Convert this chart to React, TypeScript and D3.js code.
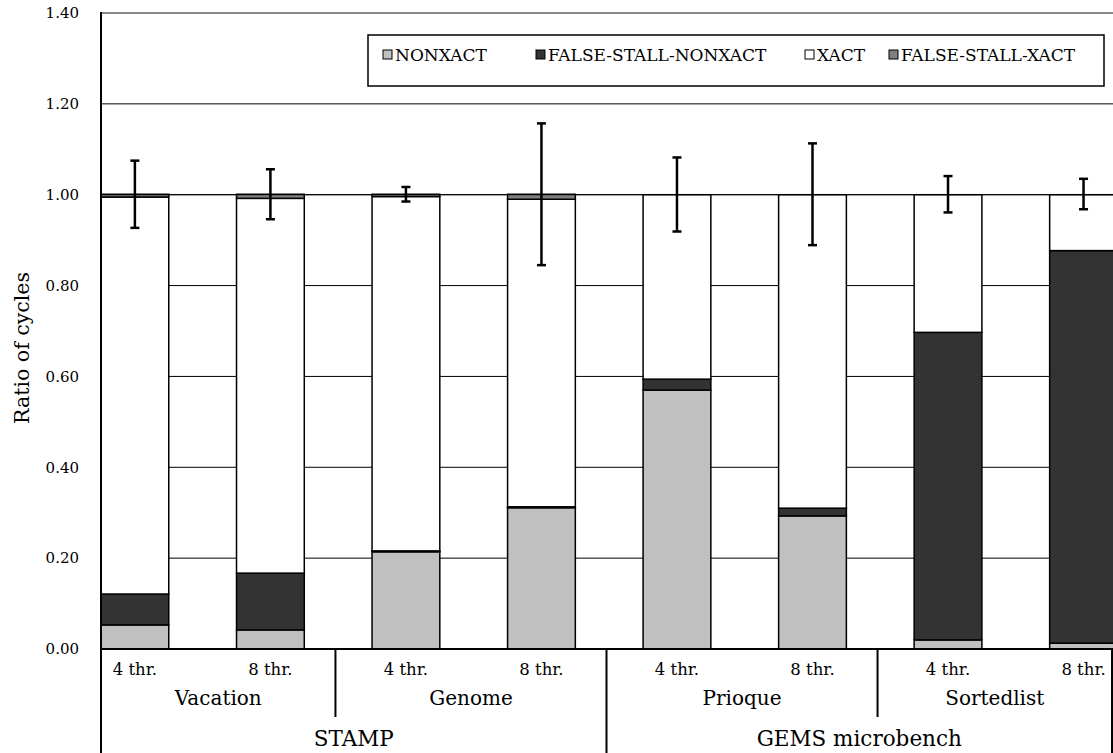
import React, { useEffect, useRef } from 'react';
import * as d3 from 'd3';

const seriesKeys = ['NONXACT', 'FALSE-STALL-NONXACT', 'XACT', 'FALSE-STALL-XACT'];
const seriesColors = ['#c0c0c0', '#333333', '#ffffff', '#808080'];

const threadLabels = ['4 thr.', '8 thr.', '4 thr.', '8 thr.', '4 thr.', '8 thr.', '4 thr.', '8 thr.'];
const nonxact = [0.053, 0.042, 0.214, 0.311, 0.57, 0.293, 0.02, 0.013];
const falseStallNonxact = [0.068, 0.125, 0.002, 0.002, 0.024, 0.017, 0.677, 0.864];
const xact = [0.874, 0.825, 0.78, 0.677, 0.406, 0.69, 0.303, 0.123];
const falseStallXact = [0.006, 0.009, 0.005, 0.011, 0, 0, 0, 0];
const errLow = [0.927, 0.946, 0.985, 0.845, 0.919, 0.889, 0.961, 0.968];
const errHigh = [1.075, 1.056, 1.017, 1.157, 1.082, 1.113, 1.041, 1.035];

const benchmarks = ['Vacation', 'Genome', 'Prioque', 'Sortedlist'];
const benchBreaks = [0, 1.73, 3.73, 5.73, 7.46];
const suites = ['STAMP', 'GEMS microbench'];
const suiteBreaks = [0, 3.73, 7.46];

const yTicks = [0, 0.2, 0.4, 0.6, 0.8, 1.0, 1.2, 1.4];

const App = () => {
  const ref = useRef<SVGSVGElement>(null);

  useEffect(() => {
    document.body.style.margin = '0';
    const width = 1113;
    const height = 753;
    const font = 'DejaVu Serif';

    const svg = d3.select(ref.current);
    svg.selectAll('*').remove();
    svg.attr('width', width).attr('height', height);
    svg.append('rect').attr('width', width).attr('height', height).attr('fill', '#fff');

    const x = d3.scaleLinear().domain([0, 7.46]).range([101, 1112]);
    const y = d3.scaleLinear().domain([0, 1.4]).range([649, 13]);

    // gridlines
    svg
      .append('g')
      .selectAll('line')
      .data(yTicks.filter((t) => t > 0))
      .join('line')
      .attr('x1', x(0))
      .attr('x2', width)
      .attr('y1', (d) => y(d))
      .attr('y2', (d) => y(d))
      .attr('stroke', (d) => (d === 1.4 ? '#888' : '#000'))
      .attr('stroke-width', (d) => (d === 1.4 ? 2 : 1));

    // stacked bars
    const rows = threadLabels.map((_, i) => ({
      i,
      NONXACT: nonxact[i],
      'FALSE-STALL-NONXACT': falseStallNonxact[i],
      XACT: xact[i],
      'FALSE-STALL-XACT': falseStallXact[i]
    }));
    const stacked = d3.stack<any>().keys(seriesKeys)(rows);

    stacked.forEach((layer, k) => {
      svg
        .append('g')
        .selectAll('rect')
        .data(layer)
        .join('rect')
        .attr('x', (d) => x(d.data.i))
        .attr('width', x(0.5) - x(0))
        .attr('y', (d) => y(d[1]))
        .attr('height', (d) => y(d[0]) - y(d[1]))
        .attr('fill', seriesColors[k])
        .attr('stroke', '#000')
        .attr('stroke-width', 1.5);
    });

    // line at 1.00 over bars
    svg
      .append('line')
      .attr('x1', x(0))
      .attr('x2', width)
      .attr('y1', y(1))
      .attr('y2', y(1))
      .attr('stroke', '#000')
      .attr('stroke-width', 1);

    // error bars
    const eb = svg.append('g').attr('stroke', '#000').attr('stroke-width', 2.5);
    threadLabels.forEach((_, i) => {
      const cx = x(i + 0.25);
      eb.append('line').attr('x1', cx).attr('x2', cx).attr('y1', y(errLow[i])).attr('y2', y(errHigh[i]));
      [errLow[i], errHigh[i]].forEach((v) => {
        eb.append('line').attr('x1', cx - 4.5).attr('x2', cx + 4.5).attr('y1', y(v)).attr('y2', y(v));
      });
    });

    // y axis
    svg
      .append('line')
      .attr('x1', x(0))
      .attr('x2', x(0))
      .attr('y1', y(1.4) - 1)
      .attr('y2', y(0))
      .attr('stroke', '#000')
      .attr('stroke-width', 2);
    svg
      .append('g')
      .selectAll('text')
      .data(yTicks)
      .join('text')
      .attr('x', 79)
      .attr('y', (d) => y(d))
      .attr('dy', '0.35em')
      .attr('text-anchor', 'end')
      .attr('font-family', font)
      .attr('font-size', 15)
      .text((d) => d3.format('.2f')(d));

    svg
      .append('text')
      .attr('transform', `translate(22,348) rotate(-90)`)
      .attr('text-anchor', 'middle')
      .attr('dy', '0.35em')
      .attr('font-family', font)
      .attr('font-size', 20.5)
      .text('Ratio of cycles');

    // x axis baseline
    svg
      .append('line')
      .attr('x1', x(0))
      .attr('x2', width)
      .attr('y1', y(0))
      .attr('y2', y(0))
      .attr('stroke', '#000')
      .attr('stroke-width', 2);

    // category separators
    const sep = svg.append('g').attr('stroke', '#000').attr('stroke-width', 2);
    benchBreaks.forEach((b) => {
      const isSuite = suiteBreaks.includes(b);
      sep
        .append('line')
        .attr('x1', x(b))
        .attr('x2', x(b))
        .attr('y1', y(0))
        .attr('y2', isSuite ? height : 717);
    });

    svg
      .append('g')
      .selectAll('text')
      .data(threadLabels)
      .join('text')
      .attr('x', (_, i) => x(i + 0.25))
      .attr('y', 675)
      .attr('text-anchor', 'middle')
      .attr('font-family', font)
      .attr('font-size', 16.5)
      .text((d) => d);

    svg
      .append('g')
      .selectAll('text')
      .data(benchmarks)
      .join('text')
      .attr('x', (_, i) => (x(benchBreaks[i]) + x(benchBreaks[i + 1])) / 2)
      .attr('y', 705)
      .attr('text-anchor', 'middle')
      .attr('font-family', font)
      .attr('font-size', 20)
      .text((d) => d);

    svg
      .append('g')
      .selectAll('text')
      .data(suites)
      .join('text')
      .attr('x', (_, i) => (x(suiteBreaks[i]) + x(suiteBreaks[i + 1])) / 2)
      .attr('y', 746)
      .attr('text-anchor', 'middle')
      .attr('font-family', font)
      .attr('font-size', 21.5)
      .text((d) => d);

    // legend
    const lg = svg.append('g');
    lg.append('rect')
      .attr('x', 368)
      .attr('y', 35)
      .attr('width', 736)
      .attr('height', 51)
      .attr('fill', '#fff')
      .attr('stroke', '#000')
      .attr('stroke-width', 1.5);
    const legendX = [395, 548, 817, 901];
    seriesKeys.forEach((key, k) => {
      lg.append('rect')
        .attr('x', legendX[k] - 12)
        .attr('y', 50)
        .attr('width', 9)
        .attr('height', 9)
        .attr('fill', seriesColors[k])
        .attr('stroke', '#000')
        .attr('stroke-width', 1);
      lg.append('text')
        .attr('x', legendX[k])
        .attr('y', 61)
        .attr('font-family', font)
        .attr('font-size', 17)
        .text(key);
    });
  }, []);

  return <svg ref={ref} style={{ display: 'block' }} />;
};

export default App;
